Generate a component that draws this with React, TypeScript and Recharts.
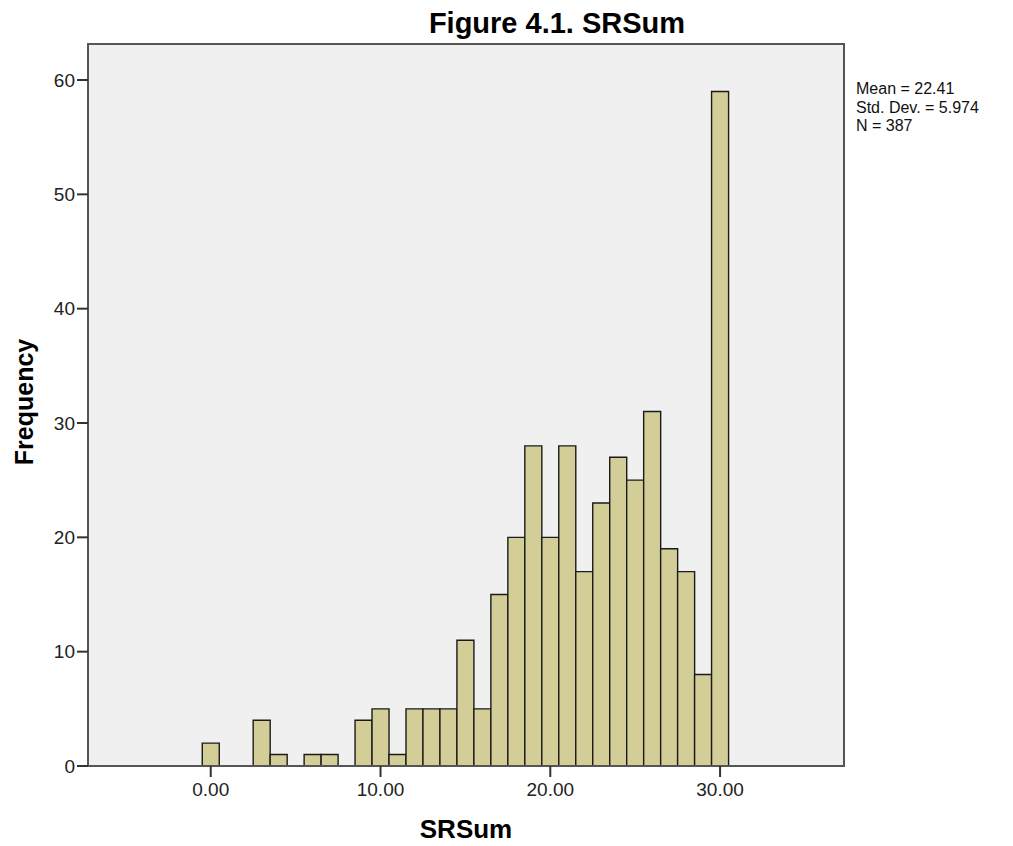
import React from 'react';
import { BarChart, Bar, XAxis, YAxis, CartesianGrid, ReferenceArea } from 'recharts';

// Histogram bins (score values) and their frequencies
const scores = [0, 1, 2, 3, 4, 5, 6, 7, 8, 9, 10, 11, 12, 13, 14, 15, 16, 17, 18, 19, 20, 21, 22, 23, 24, 25, 26, 27, 28, 29, 30];
const frequencies = [2, 0, 0, 4, 1, 0, 1, 1, 0, 4, 5, 1, 5, 5, 5, 11, 5, 15, 20, 28, 20, 28, 17, 23, 27, 25, 31, 19, 17, 8, 59];
const xTicks = [0, 10, 20, 30];
const yTicks = [0, 10, 20, 30, 40, 50, 60];
const statLines = ['Mean = 22.41', 'Std. Dev. = 5.974', 'N = 387'];
const chartTitle = 'Figure 4.1. SRSum';
const xTitle = 'SRSum';
const yTitle = 'Frequency';

const X_DOMAIN: [number, number] = [-7.23, 37.3];
const Y_DOMAIN: [number, number] = [0, 63.15];

const data = scores.map((s, i) => ({ score: s, freq: frequencies[i] }));

const FONT = '"Liberation Sans", Arial, Helvetica, sans-serif';
const W = 1005;
const H = 838;

export default function App() {
  return (
    <div style={{ position: 'relative', width: W, height: H, fontFamily: FONT }}>
      <BarChart
        width={W}
        height={H}
        data={data}
        margin={{ top: 36, right: 169, bottom: 0, left: 20 }}
        barCategoryGap={0}
        barGap={0}
      >
        <CartesianGrid fill="#F0F0F0" horizontal={false} vertical={false} />
        <XAxis
          dataKey="score"
          type="number"
          domain={X_DOMAIN}
          allowDataOverflow
          ticks={xTicks}
          tickFormatter={(v: number) => v.toFixed(2)}
          height={80}
          tickSize={11}
          tickMargin={6}
          axisLine={{ stroke: '#555', strokeWidth: 2 }}
          tickLine={{ stroke: '#333', strokeWidth: 2 }}
          tick={{ fill: '#222', fontSize: 19, fontFamily: FONT }}
        />
        <YAxis
          type="number"
          domain={Y_DOMAIN}
          allowDataOverflow
          ticks={yTicks}
          width={60}
          tickSize={11}
          tickMargin={2}
          axisLine={{ stroke: '#555', strokeWidth: 2 }}
          tickLine={{ stroke: '#333', strokeWidth: 2 }}
          tick={{ fill: '#222', fontSize: 19, fontFamily: FONT }}
        />
        <ReferenceArea
          x1={X_DOMAIN[0]}
          x2={X_DOMAIN[1]}
          y1={Y_DOMAIN[0]}
          y2={Y_DOMAIN[1]}
          fill="none"
          stroke="#555"
          strokeWidth={2}
          ifOverflow="visible"
        />
        <Bar
          dataKey="freq"
          fill="#D3CE97"
          stroke="#1a1a1a"
          strokeWidth={1.4}
          isAnimationActive={false}
        />
      </BarChart>
      <svg
        width={W}
        height={H}
        style={{ position: 'absolute', left: 0, top: 0, pointerEvents: 'none' }}
        fontFamily={FONT}
      >
        <text x={549} y={25} textAnchor="middle" fontSize={29} fontWeight="bold" fill="#000">
          {chartTitle}
        </text>
        <text x={458} y={830} textAnchor="middle" fontSize={26} fontWeight="bold" fill="#000">
          {xTitle}
        </text>
        <text
          x={25}
          y={394}
          textAnchor="middle"
          fontSize={25}
          fontWeight="bold"
          fill="#000"
          transform="rotate(-90 25 394)"
        >
          {yTitle}
        </text>
        {statLines.map((line, i) => (
          <text key={line} x={848} y={86 + i * 18.5} fontSize={16} fill="#111">
            {line}
          </text>
        ))}
      </svg>
    </div>
  );
}
